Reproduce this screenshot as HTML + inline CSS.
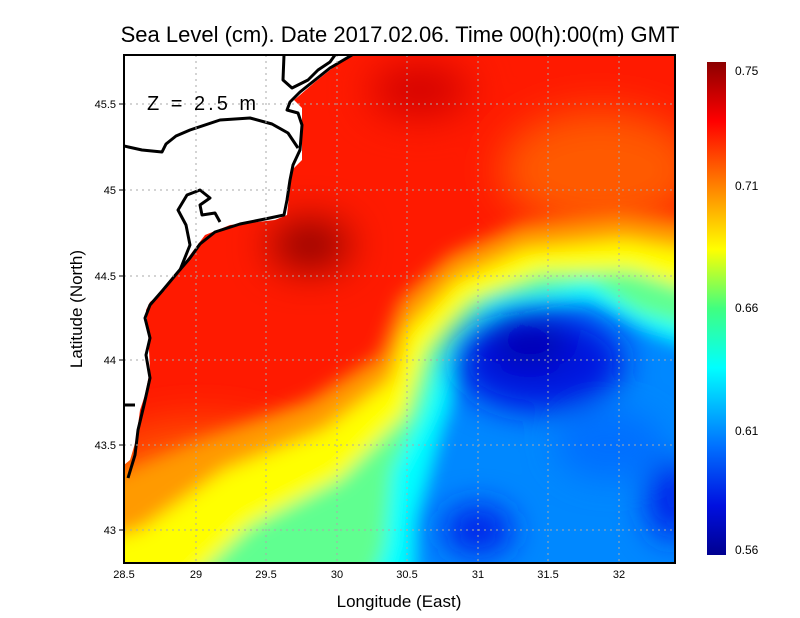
<!DOCTYPE html>
<html><head><style>body{margin:0;background:#fff}svg{display:block}</style></head><body>
<svg width="800" height="618" xmlns="http://www.w3.org/2000/svg" font-family="Liberation Sans, sans-serif">
<defs>
<clipPath id="c"><rect x="124" y="55" width="551" height="508"/></clipPath>
<filter id="b" x="-50%" y="-50%" width="200%" height="200%"><feGaussianBlur stdDeviation="9"/></filter>
<filter id="b3" x="-50%" y="-50%" width="200%" height="200%"><feGaussianBlur stdDeviation="16"/></filter>
<filter id="b2" x="-50%" y="-50%" width="200%" height="200%"><feGaussianBlur stdDeviation="20"/></filter>
<linearGradient id="cb" x1="0" y1="0" x2="0" y2="1">
<stop offset="0" stop-color="#8b0000"/><stop offset="0.12" stop-color="#ff0000"/><stop offset="0.25" stop-color="#ff8000"/><stop offset="0.38" stop-color="#ffff00"/><stop offset="0.5" stop-color="#40ff80"/><stop offset="0.62" stop-color="#00ffff"/><stop offset="0.78" stop-color="#0070ff"/><stop offset="0.9" stop-color="#0010e0"/><stop offset="1" stop-color="#000090"/></linearGradient>
</defs>
<g clip-path="url(#c)">
<rect x="100" y="40" width="620" height="560" fill="#ff1a00"/>
<g filter="url(#b2)">
<ellipse cx="600" cy="170" rx="100" ry="60" fill="#ff5a00"/>
<ellipse cx="200" cy="470" rx="110" ry="50" fill="#ff5000"/>
<ellipse cx="420" cy="90" rx="50" ry="25" fill="#d00000"/>
<ellipse cx="310" cy="245" rx="40" ry="24" fill="#8b0000"/>
</g>
<g filter="url(#b)">
<path d="M100,480 L200,440 L310,400 L380,355 L400,300 L450,255 L520,225 L620,215 L720,225 L720,640 L100,640Z" fill="#ff9a00"/>
<path d="M100,540 L140,530 L224,470 L324,430 L391,380 L407,330 L457,280 L524,250 L624,240 L720,255 L720,640 L100,640Z" fill="#ffff00"/>
<path d="M150,620 L250,525 L340,478 L405,414 L425,350 L470,300 L540,272 L630,270 L720,298 L720,640 L100,640Z" fill="#60ff90"/>
<path d="M350,640 L385,547 L392,470 L422,413 L438,363 L490,302 L590,282 L640,313 L720,335 L720,640Z" fill="#00ffff"/>
<path d="M410,640 L415,520 L440,430 L460,375 L510,318 L590,302 L660,335 L720,355 L720,640Z" fill="#0088ff"/>
</g>
<g filter="url(#b3)">
<ellipse cx="540" cy="362" rx="85" ry="50" fill="#0018e0"/>
<ellipse cx="530" cy="345" rx="40" ry="22" fill="#0000b0"/>
<ellipse cx="478" cy="530" rx="35" ry="25" fill="#0020e8"/>
<ellipse cx="672" cy="500" rx="25" ry="40" fill="#0020e8"/>
<ellipse cx="610" cy="445" rx="55" ry="35" fill="#0070ff"/>
</g>
<path d="M124,55 L350,55 L340,62 L330,70 L315,82 L300,95 L294,100 L302,108 L302,160 L292,170 L290,185 L287,215 L275,220 L230,225 L205,235 L190,255 L178,272 L165,290 L150,302 L146,310 L148,330 L150,370 L145,395 L140,410 L136,440 L130,460 L124,465Z" fill="#fff"/>
<g fill="none" stroke="#000" stroke-width="3" stroke-linejoin="round">
<path d="M352,55 L330,68 L315,80 L300,92 L290,102 L287,110 L298,113 L302,125 L300,150 L293,165 L290,180 L287,200 L284,215 L265,219 L240,224 L215,232 L200,244 L190,258 L178,272 L163,290 L150,305 L145,318 L150,338 L146,355 L150,378 L144,405 L138,430 L135,455 L128,478"/>
<path d="M124,146 L142,150 L162,152 L166,144 L176,136 L190,130 L220,120 L250,118 L272,124 L288,133 L298,148"/>
<path d="M180,270 L190,245 L186,225 L178,210 L187,195 L200,190 L210,198 L200,205 L202,215 L215,213 L220,222"/>
<path d="M284,55 L283,80 L292,88 L308,80 L318,70 L330,62 L335,55"/>
<path d="M124,405 L135,405"/>
</g>
<g stroke="#aaa" stroke-width="1" stroke-dasharray="2,4">
<line x1="196" y1="55" x2="196" y2="563"/><line x1="266" y1="55" x2="266" y2="563"/><line x1="337" y1="55" x2="337" y2="563"/><line x1="407" y1="55" x2="407" y2="563"/><line x1="478" y1="55" x2="478" y2="563"/><line x1="548" y1="55" x2="548" y2="563"/><line x1="619" y1="55" x2="619" y2="563"/>
<line x1="124" y1="104" x2="675" y2="104"/><line x1="124" y1="190" x2="675" y2="190"/><line x1="124" y1="276" x2="675" y2="276"/><line x1="124" y1="360" x2="675" y2="360"/><line x1="124" y1="445" x2="675" y2="445"/><line x1="124" y1="530" x2="675" y2="530"/>
</g>
</g>
<text x="147" y="110" font-size="20" fill="#000" letter-spacing="3">Z = 2.5 m</text>
<rect x="124" y="55" width="551" height="508" fill="none" stroke="#000" stroke-width="2"/>
<g font-size="11" fill="#000" text-anchor="middle">
<text x="124" y="578">28.5</text><text x="196" y="578">29</text><text x="266" y="578">29.5</text><text x="337" y="578">30</text><text x="407" y="578">30.5</text><text x="478" y="578">31</text><text x="548" y="578">31.5</text><text x="619" y="578">32</text>
</g>
<g font-size="11" fill="#000" text-anchor="end">
<text x="116" y="108">45.5</text><text x="116" y="194">45</text><text x="116" y="280">44.5</text><text x="116" y="364">44</text><text x="116" y="449">43.5</text><text x="116" y="534">43</text>
</g>
<g stroke="#000" stroke-width="1">
<line x1="119" y1="104" x2="124" y2="104"/><line x1="119" y1="190" x2="124" y2="190"/><line x1="119" y1="276" x2="124" y2="276"/><line x1="119" y1="360" x2="124" y2="360"/><line x1="119" y1="445" x2="124" y2="445"/><line x1="119" y1="530" x2="124" y2="530"/>
</g>
<text x="400" y="42" font-size="22" text-anchor="middle" fill="#000">Sea Level (cm). Date 2017.02.06. Time 00(h):00(m) GMT</text>
<text x="399" y="607" font-size="17" text-anchor="middle" fill="#000">Longitude (East)</text>
<text transform="translate(82,309) rotate(-90)" font-size="17" text-anchor="middle" fill="#000">Latitude (North)</text>
<rect x="707" y="62" width="19" height="493" fill="url(#cb)"/>
<g font-size="12" fill="#000">
<text x="735" y="75">0.75</text><text x="735" y="190">0.71</text><text x="735" y="312">0.66</text><text x="735" y="435">0.61</text><text x="735" y="554">0.56</text>
</g>
</svg>
</body></html>
